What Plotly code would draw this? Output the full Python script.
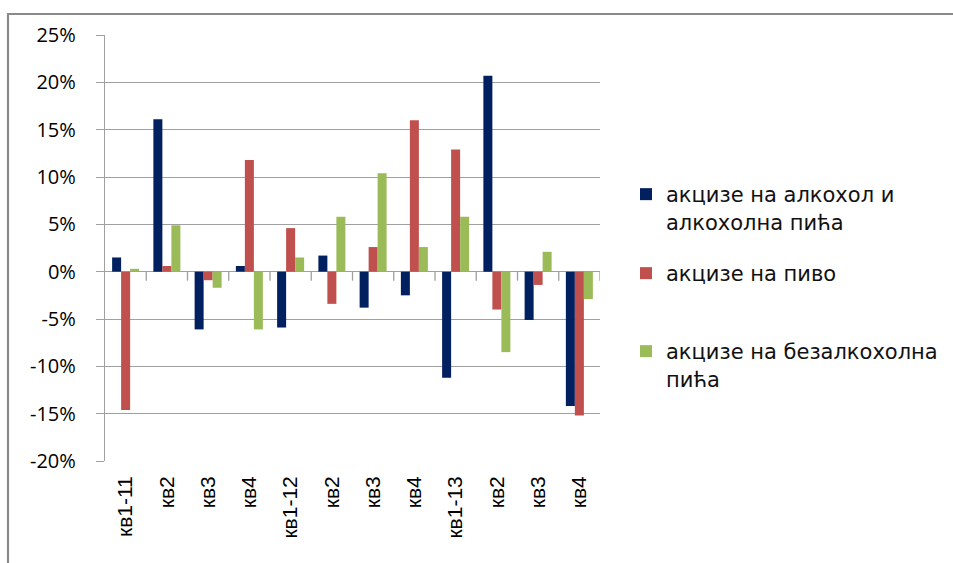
import plotly.graph_objects as go

categories = ["кв1-11", "кв2", "кв3", "кв4", "кв1-12", "кв2", "кв3", "кв4", "кв1-13", "кв2", "кв3", "кв4"]
alcohol = [0.015, 0.161, -0.061, 0.006, -0.059, 0.017, -0.038, -0.025, -0.112, 0.207, -0.051, -0.142]
beer = [-0.146, 0.006, -0.009, 0.118, 0.046, -0.034, 0.026, 0.160, 0.129, -0.040, -0.014, -0.152]
soft = [0.003, 0.049, -0.017, -0.061, 0.015, 0.058, 0.104, 0.026, 0.058, -0.085, 0.021, -0.029]
series_names = ["акцизе на алкохол и<br>алкохолна пића", "акцизе на пиво", "акцизе на безалкохолна<br>пића"]
series_colors = ["#002060", "#C0504D", "#9BBB59"]
y_tickvals = [-0.20, -0.15, -0.10, -0.05, 0.0, 0.05, 0.10, 0.15, 0.20, 0.25]
y_ticktext = ["-20%", "-15%", "-10%", "-5%", "0%", "5%", "10%", "15%", "20%", "25%"]

W, H = 953, 563
L, R, T, B = 105, 600, 35, 461

def px_x(p):
    return (p - L) / (R - L)

def px_y(p):
    return (B - p) / (B - T)

xs = list(range(len(categories)))
fig = go.Figure()
legend_ids = ["legend", "legend2", "legend3"]
for vals, name, col, lg in zip([alcohol, beer, soft], series_names, series_colors, legend_ids):
    fig.add_trace(go.Bar(x=xs, y=vals, name=name, marker=dict(color=col, line=dict(width=0)),
                         legend=lg))

grid = "#a0a0a0"
fig.update_layout(
    width=W, height=H,
    margin=dict(l=L, r=W - R, t=T, b=H - B, autoexpand=False),
    paper_bgcolor="white", plot_bgcolor="white",
    barmode="group", bargap=0.345, bargroupgap=0,
    font=dict(family="Open Sans", color="#000000"),
    showlegend=True,
)
legend_common = dict(font=dict(family="DejaVu Sans", size=21, color="#111111"), valign="top",
                     bgcolor="rgba(0,0,0,0)", xanchor="left", yanchor="top", tracegroupgap=0)
fig.update_layout(
    legend=dict(x=px_x(626), y=px_y(174), **legend_common),
    legend2=dict(x=px_x(626), y=px_y(253), **legend_common),
    legend3=dict(x=px_x(626), y=px_y(331), **legend_common),
)

fig.update_xaxes(range=[-0.5, len(categories) - 0.5], tickvals=xs, ticktext=categories,
                 tickangle=-90, showgrid=False, zeroline=False, showline=False, ticks="",
                 tickfont=dict(family="Liberation Sans", size=21, color="#000000"),
                 ticklabelstandoff=10)
fig.update_yaxes(range=[-0.20, 0.25], tickvals=y_tickvals, ticktext=y_ticktext,
                 showgrid=True, gridcolor=grid, gridwidth=1.3,
                 zeroline=True, zerolinecolor=grid, zerolinewidth=1.3,
                 showline=True, linecolor=grid, linewidth=1.3,
                 ticks="outside", ticklen=8, tickcolor=grid, tickwidth=1.3,
                 tickfont=dict(family="Open Sans", size=20, color="#000000"),
                 ticklabelstandoff=16)

# category-boundary tick marks on the zero line
for i in range(len(categories)):
    fig.add_shape(type="line", xref="x", yref="y", x0=i + 0.5, x1=i + 0.5, y0=0, y1=-0.0095,
                  line=dict(color=grid, width=1.3))

# outer chart frame (top and left edges)
frame = "#8a8a8a"
fig.add_shape(type="line", xref="paper", yref="paper", x0=px_x(7), x1=px_x(W), y0=px_y(14), y1=px_y(14),
              line=dict(color=frame, width=2.2))
fig.add_shape(type="line", xref="paper", yref="paper", x0=px_x(8), x1=px_x(8), y0=px_y(14), y1=px_y(H),
              line=dict(color=frame, width=2.2))

fig.write_html("out.html", config={"displayModeBar": False},
               post_script="document.body.style.margin='0';document.body.style.overflow='hidden';")
